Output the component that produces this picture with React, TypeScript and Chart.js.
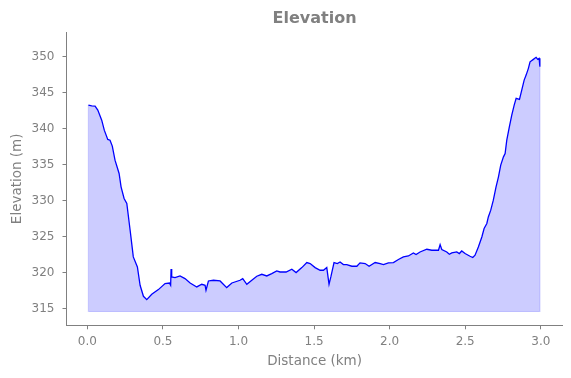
import React, { useEffect, useRef } from "react";
import { Chart, registerables } from "chart.js";

Chart.register(...registerables);

const distanceKm = [
  0.007, 0.029, 0.051, 0.069, 0.095, 0.112, 0.135, 0.150, 0.165, 0.183,
  0.210, 0.223, 0.243, 0.261, 0.283, 0.304, 0.331, 0.349, 0.371, 0.393,
  0.426, 0.470, 0.514, 0.543, 0.551, 0.554, 0.558, 0.580, 0.613, 0.646,
  0.680, 0.724, 0.757, 0.779, 0.785, 0.801, 0.834, 0.878, 0.922, 0.956,
  1.010, 1.028, 1.055, 1.088, 1.121, 1.154, 1.187, 1.220, 1.253, 1.275,
  1.315, 1.353, 1.381, 1.419, 1.452, 1.474, 1.507, 1.540, 1.562, 1.584,
  1.599, 1.611, 1.632, 1.654, 1.672, 1.694, 1.716, 1.750, 1.783, 1.804,
  1.838, 1.864, 1.904, 1.937, 1.959, 1.992, 2.025, 2.058, 2.091, 2.124,
  2.157, 2.175, 2.201, 2.246, 2.279, 2.323, 2.334, 2.345, 2.378, 2.395,
  2.411, 2.444, 2.461, 2.477, 2.499, 2.532, 2.550, 2.565, 2.587, 2.610,
  2.625, 2.643, 2.653, 2.669, 2.686, 2.704, 2.720, 2.735, 2.753, 2.764,
  2.775, 2.792, 2.808, 2.824, 2.837, 2.859, 2.874, 2.890, 2.903, 2.918,
  2.929, 2.951, 2.969, 2.980, 2.989, 2.994,
];

const elevationM = [
  343.28, 343.18, 343.14, 342.59, 341.19, 339.80, 338.51, 338.41, 337.58, 335.63,
  333.78, 331.92, 330.30, 329.61, 325.89, 322.18, 320.79, 318.24, 316.71, 316.25,
  316.99, 317.64, 318.48, 318.56, 318.24, 320.50, 319.40, 319.31, 319.54, 319.17,
  318.56, 318.01, 318.38, 318.24, 317.55, 318.84, 318.94, 318.84, 317.92, 318.56,
  318.94, 319.17, 318.38, 318.94, 319.50, 319.77, 319.54, 319.87, 320.23, 320.09,
  320.09, 320.47, 320.01, 320.70, 321.40, 321.26, 320.70, 320.33, 320.33, 320.70,
  318.38, 319.40, 321.40, 321.26, 321.48, 321.12, 321.12, 320.89, 320.89, 321.35,
  321.26, 320.89, 321.40, 321.26, 321.12, 321.35, 321.40, 321.82, 322.18, 322.32,
  322.74, 322.51, 322.87, 323.25, 323.11, 323.11, 323.90, 323.21, 322.87, 322.55,
  322.74, 322.87, 322.65, 323.01, 322.65, 322.28, 322.10, 322.42, 323.57, 324.96,
  326.13, 326.83, 327.74, 328.68, 330.07, 331.92, 333.31, 334.94, 336.09, 336.56,
  338.41, 340.26, 341.89, 343.28, 344.21, 344.07, 345.37, 346.76, 347.45, 348.39,
  349.30, 349.64, 349.92, 349.64, 349.78, 348.61,
];

const fillBase = 314.6;
const xTickValues = [0, 0.5, 1.0, 1.5, 2.0, 2.5, 3.0];
const yTickValues = [315, 320, 325, 330, 335, 340, 345, 350];

const GRAY = "#808080";
const FONT = '"DejaVu Sans", "Liberation Sans", sans-serif';

const titlePlugin = {
  id: "topTitle",
  afterDraw(chart: any) {
    const { ctx, chartArea } = chart;
    ctx.save();
    ctx.font = `bold 16px ${FONT}`;
    ctx.fillStyle = GRAY;
    ctx.textAlign = "center";
    ctx.textBaseline = "middle";
    ctx.fillText("Elevation", (chartArea.left + chartArea.right) / 2, 18.8);
    ctx.restore();
  },
};

export default function App() {
  const canvasRef = useRef<HTMLCanvasElement | null>(null);

  useEffect(() => {
    if (!canvasRef.current) return;
    const points = distanceKm.map((x, i) => ({ x, y: elevationM[i] }));
    const last = distanceKm.length - 1;
    const outline = [
      { x: distanceKm[0], y: elevationM[0] },
      { x: distanceKm[0], y: fillBase },
      { x: distanceKm[last], y: fillBase },
      { x: distanceKm[last], y: elevationM[last] },
    ];

    const chart = new Chart(canvasRef.current, {
      type: "line",
      data: {
        datasets: [
          {
            data: points,
            borderColor: "#0000ff",
            borderWidth: 1.3,
            backgroundColor: "rgba(0,0,255,0.2)",
            fill: { value: fillBase },
            pointRadius: 0,
            tension: 0,
            order: 0,
          },
          {
            data: outline,
            borderColor: "rgba(0,0,255,0.18)",
            borderWidth: 1.2,
            fill: false,
            pointRadius: 0,
            tension: 0,
            order: 1,
          },
        ],
      },
      plugins: [titlePlugin],
      options: {
        animation: false,
        responsive: true,
        maintainAspectRatio: false,
        layout: { padding: { top: 32.3, right: 8.3, left: 0, bottom: 0 } },
        plugins: {
          legend: { display: false },
          tooltip: { enabled: false },
          title: { display: false },
        },
        scales: {
          x: {
            type: "linear",
            min: -0.138,
            max: 3.145,
            afterBuildTicks: (scale: any) => {
              scale.ticks = xTickValues.map((v) => ({ value: v }));
            },
            afterFit: (scale: any) => {
              scale.height = 52.7;
            },
            ticks: {
              color: GRAY,
              font: { family: FONT, size: 12 },
              padding: 5,
              maxRotation: 0,
              autoSkip: false,
              callback: (v: any) => Number(v).toFixed(1),
            },
            grid: {
              drawOnChartArea: false,
              drawTicks: true,
              tickLength: 4,
              color: GRAY,
            },
            border: { display: true, color: GRAY, width: 1 },
            title: {
              display: true,
              text: "Distance (km)",
              color: GRAY,
              font: { family: FONT, size: 13.5 },
              padding: { top: 0, bottom: 8.4 },
            },
          },
          y: {
            type: "linear",
            min: 312.68,
            max: 353.4,
            afterBuildTicks: (scale: any) => {
              scale.ticks = yTickValues.map((v) => ({ value: v }));
            },
            afterFit: (scale: any) => {
              scale.width = 66.5;
            },
            ticks: {
              color: GRAY,
              font: { family: FONT, size: 12 },
              padding: 8,
              autoSkip: false,
              callback: (v: any) => String(v),
            },
            grid: {
              drawOnChartArea: false,
              drawTicks: true,
              tickLength: 4,
              color: GRAY,
            },
            border: { display: true, color: GRAY, width: 1 },
            title: {
              display: true,
              text: "Elevation (m)",
              color: GRAY,
              font: { family: FONT, size: 13.5 },
              padding: { top: 8.9, bottom: 0 },
            },
          },
        },
      },
    });
    return () => chart.destroy();
  }, []);

  return (
    <div style={{ position: "absolute", left: 0, top: 0, width: 571, height: 378, background: "#fff" }}>
      <canvas ref={canvasRef} />
    </div>
  );
}
